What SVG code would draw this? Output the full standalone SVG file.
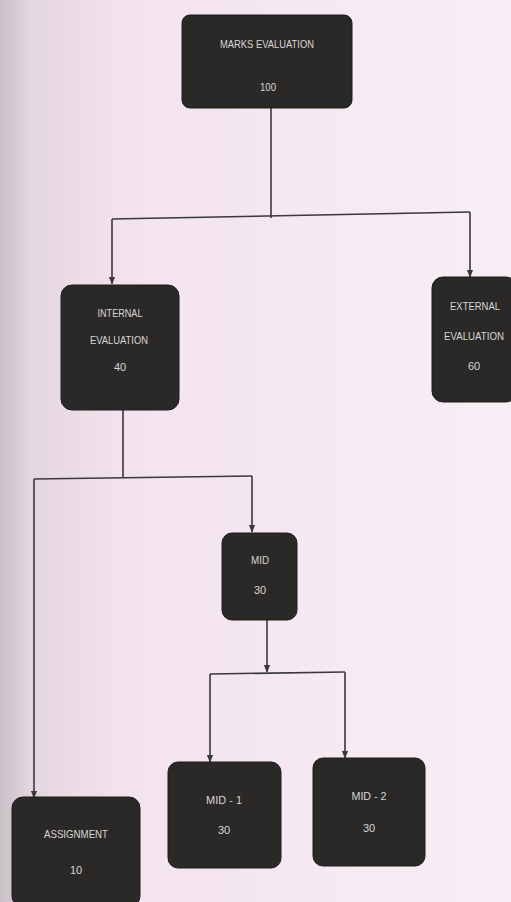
<svg xmlns="http://www.w3.org/2000/svg" width="511" height="902" viewBox="0 0 511 902">
<defs>
<linearGradient id="bg" x1="0" y1="0" x2="1" y2="0">
<stop offset="0" stop-color="#c9bfc6"/>
<stop offset="0.06" stop-color="#e4d6df"/>
<stop offset="0.25" stop-color="#f3e3ee"/>
<stop offset="0.7" stop-color="#f6eaf3"/>
<stop offset="1" stop-color="#f7eef5"/>
</linearGradient>
<marker id="ah" viewBox="0 0 10 10" refX="9" refY="5" markerWidth="8" markerHeight="8" orient="auto" markerUnits="userSpaceOnUse">
<path d="M0,1 L10,5 L0,9 z" fill="#3a3a3a"/>
</marker>
</defs>
<style>
.box{fill:#2b2927;stroke:#1e1c1b;stroke-width:1}
.t{font-family:"Liberation Sans Narrow","Liberation Sans",Arial,sans-serif;font-size:11px;fill:#d9d6d6;text-anchor:middle}
.c{fill:none;stroke:#3a3838;stroke-width:1.6}
.ca{fill:none;stroke:#3a3838;stroke-width:1.6;marker-end:url(#ah)}
</style>
<rect x="0" y="0" width="511" height="902" fill="url(#bg)"/>
<g id="connectors">
<path class="c" d="M271,108 V218" stroke-width="3"/>
<path class="c" d="M112,219 L470,212"/>
<path class="ca" d="M112,219 V284"/>
<path class="ca" d="M470,212 V277"/>
<path class="c" d="M123,410 V477"/>
<path class="c" d="M34,479 L252,476"/>
<path class="ca" d="M34,479 V798"/>
<path class="ca" d="M252,476 V532"/>
<path class="ca" d="M267,620 V672"/>
<path class="c" d="M210,674 L345,672"/>
<path class="ca" d="M210,674 V762"/>
<path class="ca" d="M345,672 V758"/>
</g>
<g id="marks">
<rect class="box" x="182" y="15" width="170" height="93" rx="8"/>
<text class="t" x="267" y="48" textLength="94" lengthAdjust="spacingAndGlyphs">MARKS EVALUATION</text>
<text class="t" x="268" y="91" textLength="16" lengthAdjust="spacingAndGlyphs">100</text>
</g>
<g id="internal">
<rect class="box" x="61" y="285" width="118" height="125" rx="11"/>
<text class="t" x="120" y="317" textLength="45" lengthAdjust="spacingAndGlyphs">INTERNAL</text>
<text class="t" x="119" y="344" textLength="58" lengthAdjust="spacingAndGlyphs">EVALUATION</text>
<text class="t" x="120" y="371">40</text>
</g>
<g id="external">
<rect class="box" x="432" y="277" width="85" height="125" rx="11"/>
<text class="t" x="475" y="310" textLength="50" lengthAdjust="spacingAndGlyphs">EXTERNAL</text>
<text class="t" x="474" y="340" textLength="60" lengthAdjust="spacingAndGlyphs">EVALUATION</text>
<text class="t" x="474" y="370">60</text>
</g>
<g id="mid">
<rect class="box" x="222" y="533" width="75" height="87" rx="10"/>
<text class="t" x="260" y="564" textLength="18" lengthAdjust="spacingAndGlyphs">MID</text>
<text class="t" x="260" y="594">30</text>
</g>
<g id="mid1">
<rect class="box" x="168" y="762" width="113" height="106" rx="10"/>
<text class="t" x="224" y="804" textLength="36" lengthAdjust="spacingAndGlyphs">MID - 1</text>
<text class="t" x="224" y="834">30</text>
</g>
<g id="mid2">
<rect class="box" x="313" y="758" width="112" height="108" rx="10"/>
<text class="t" x="369" y="800" textLength="35" lengthAdjust="spacingAndGlyphs">MID - 2</text>
<text class="t" x="369" y="832">30</text>
</g>
<g id="assignment">
<rect class="box" x="12" y="797" width="128" height="110" rx="11"/>
<text class="t" x="76" y="838" textLength="64" lengthAdjust="spacingAndGlyphs">ASSIGNMENT</text>
<text class="t" x="76" y="874">10</text>
</g>
</svg>
